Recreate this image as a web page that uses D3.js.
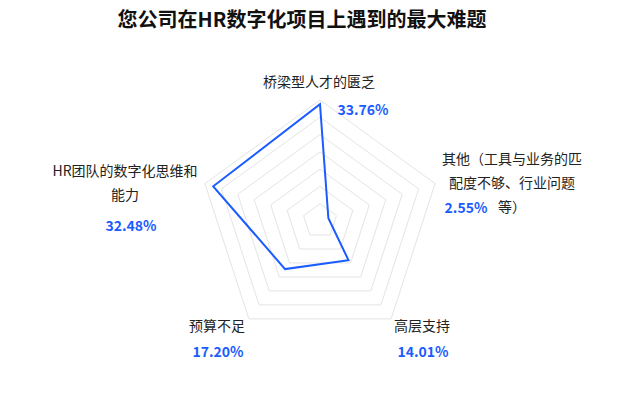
<!DOCTYPE html>
<html>
<head>
<meta charset="utf-8">
<script src="https://cdn.jsdelivr.net/npm/d3@7"></script>
<style>
  body { margin: 0; background: #fff; }
  text { font-family: "Noto Sans CJK SC", "Noto Sans", sans-serif; }
</style>
</head>
<body>
<svg width="640" height="403"></svg>
<script>
var title = "您公司在HR数字化项目上遇到的最大难题";
var categories = ["桥梁型人才的匮乏", "其他（工具与业务的匹配度不够、行业问题等）", "高层支持", "预算不足", "HR团队的数字化思维和能力"];
var values = [33.76, 2.55, 14.01, 17.20, 32.48];
var valueLabels = ["33.76%", "2.55%", "14.01%", "17.20%", "32.48%"];
var ringTicks = [5, 10, 15, 20, 25, 30, 35];

// how the axis names wrap and where they sit (relative to chart centre)
var nameLines = [
  ["桥梁型人才的匮乏"],
  ["其他（工具与业务的匹", "配度不够、行业问题", "等）"],
  ["高层支持"],
  ["预算不足"],
  ["HR团队的数字化思维和", "能力"]
];
var nameLayout = [
  {x: -1, y: -139, step: 24},
  {x: 192, y: -62, step: 24},
  {x: 102, y: 105, step: 24},
  {x: -103, y: 105, step: 24},
  {x: -195, y: -50, step: 24}
];
var valueLayout = [
  {x: 43, y: -111}, {x: 146, y: -13}, {x: 103, y: 131}, {x: -102, y: 131}, {x: -189, y: 5}
];

var svg = d3.select("svg"),
    cx = 320, cy = 221, radius = 121;

var r = d3.scaleLinear().domain([0, d3.max(ringTicks)]).range([0, radius]);
var angle = d3.scaleLinear().domain([0, categories.length]).range([0, 2 * Math.PI]);

var g = svg.append("g").attr("transform", "translate(" + cx + "," + cy + ")");

svg.append("text")
    .attr("x", 302).attr("y", 20)
    .attr("dy", "0.35em")
    .attr("text-anchor", "middle")
    .style("font-size", "20px")
    .style("font-weight", "bold")
    .attr("fill", "#111")
    .text(title);

var ring = d3.lineRadial()
    .angle(function(d, i) { return angle(i); })
    .radius(function(d) { return r(d); })
    .curve(d3.curveLinearClosed);

g.selectAll(".ring")
  .data(ringTicks)
  .enter().append("path")
    .attr("class", "ring")
    .attr("d", function(t) { return ring(categories.map(function() { return t; })); })
    .attr("fill", "none")
    .attr("stroke", "#e4e4e4")
    .attr("stroke-width", 1);

g.append("path")
    .datum(values)
    .attr("d", ring)
    .attr("fill", "none")
    .attr("stroke", "#1a5cff")
    .attr("stroke-width", 2)
    .attr("stroke-linejoin", "miter");

var names = g.selectAll(".axis-name")
  .data(nameLines)
  .enter().append("text")
    .attr("class", "axis-name")
    .attr("text-anchor", "middle")
    .style("font-size", "14px")
    .attr("fill", "#222");

names.each(function(lines, i) {
  var L = nameLayout[i];
  d3.select(this).selectAll("tspan")
    .data(lines)
    .enter().append("tspan")
      .attr("x", L.x)
      .attr("y", function(d, j) { return L.y + j * L.step; })
      .attr("dy", "0.35em")
      .text(function(d) { return d; });
});

g.selectAll(".value-label")
  .data(valueLabels)
  .enter().append("text")
    .attr("class", "value-label")
    .attr("x", function(d, i) { return valueLayout[i].x; })
    .attr("y", function(d, i) { return valueLayout[i].y; })
    .attr("dy", "0.35em")
    .attr("text-anchor", "middle")
    .style("font-size", "14px")
    .style("font-weight", "bold")
    .attr("fill", "#1a5cff")
    .text(function(d) { return d; });
</script>
</body>
</html>
